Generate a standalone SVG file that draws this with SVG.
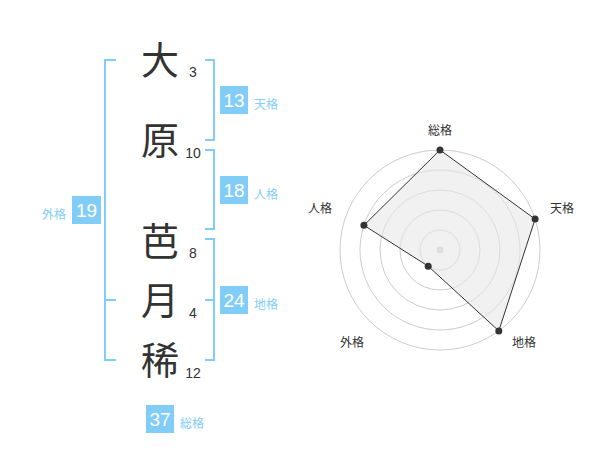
<svg xmlns="http://www.w3.org/2000/svg" width="600" height="470" viewBox="0 0 600 470">
<style>
.ch{font-family:"Noto Sans CJK JP","Noto Sans CJK SC",sans-serif;font-size:38px;fill:#333;text-anchor:middle}
.st{font-family:"Liberation Sans",Arial,sans-serif;font-size:14px;fill:#333;text-anchor:middle}
.br{fill:none;stroke:#82cdf7;stroke-width:2}
.box{fill:#82cdf7}
.bn{font-family:"Liberation Sans",Arial,sans-serif;font-size:19px;fill:#fff;text-anchor:middle}
.lb{font-family:"Noto Sans CJK JP","Noto Sans CJK SC",sans-serif;font-size:12px;fill:#82cdf7}
.rl{font-family:"Noto Sans CJK JP","Noto Sans CJK SC",sans-serif;font-size:12px;fill:#333;text-anchor:middle}
.ring{fill:none;stroke:#cccccc;stroke-width:1}
</style>
<rect width="600" height="470" fill="#fff"/>
<g id="chars">
<text class="ch" x="160" y="74">大</text>
<text class="ch" x="160" y="154">原</text>
<text class="ch" x="160" y="255">芭</text>
<text class="ch" x="160" y="314">月</text>
<text class="ch" x="160" y="374">稀</text>
</g>
<g id="strokes">
<text class="st" x="193" y="77">3</text>
<text class="st" x="193" y="158">10</text>
<text class="st" x="193" y="258">8</text>
<text class="st" x="193" y="318">4</text>
<text class="st" x="193" y="378">12</text>
</g>
<g id="connectors">
<path class="br" d="M116,60 H105 V360 H116 M105,300 H116"/>
<path class="br" d="M205,60 H214 V140 H205"/>
<path class="br" d="M205,150 H214 V229 H205"/>
<path class="br" d="M205,239 H214 V360 H205 M205,300 H214"/>
</g>
<g id="tenkaku">
<rect class="box" x="220" y="86" width="28" height="28"/>
<text class="bn" x="234" y="107">13</text>
<text class="lb" x="254" y="109">天格</text>
</g>
<g id="jinkaku">
<rect class="box" x="220" y="176" width="28" height="28"/>
<text class="bn" x="234" y="197">18</text>
<text class="lb" x="254" y="199">人格</text>
</g>
<g id="gaikaku">
<rect class="box" x="72" y="196" width="29" height="28"/>
<text class="bn" x="86.5" y="217">19</text>
<text class="lb" x="42" y="219">外格</text>
</g>
<g id="chikaku">
<rect class="box" x="220" y="286" width="28" height="28"/>
<text class="bn" x="234" y="307">24</text>
<text class="lb" x="254" y="309">地格</text>
</g>
<g id="soukaku">
<rect class="box" x="146" y="405" width="28" height="28"/>
<text class="bn" x="160" y="426">37</text>
<text class="lb" x="180" y="428">総格</text>
</g>
<g id="radar">
<circle class="ring" cx="440" cy="250" r="20"/>
<circle class="ring" cx="440" cy="250" r="40"/>
<circle class="ring" cx="440" cy="250" r="60"/>
<circle class="ring" cx="440" cy="250" r="80"/>
<circle class="ring" cx="440" cy="250" r="100"/>
<circle cx="440" cy="250" r="3.5" fill="#cccccc"/>
<polygon points="440,150 535.1,219.1 498.8,330.9 428.2,266.2 363.9,225.3" fill="#e8e8e8" fill-opacity="0.6" stroke="#333" stroke-width="1"/>
<g fill="#333">
<circle cx="440" cy="150" r="3.5"/>
<circle cx="535.1" cy="219.1" r="3.5"/>
<circle cx="498.8" cy="330.9" r="3.5"/>
<circle cx="428.2" cy="266.2" r="3.5"/>
<circle cx="363.9" cy="225.3" r="3.5"/>
</g>
<text class="rl" x="440" y="135">総格</text>
<text class="rl" x="562" y="213">天格</text>
<text class="rl" x="524" y="347">地格</text>
<text class="rl" x="352" y="347">外格</text>
<text class="rl" x="320" y="213">人格</text>
</g>
</svg>
